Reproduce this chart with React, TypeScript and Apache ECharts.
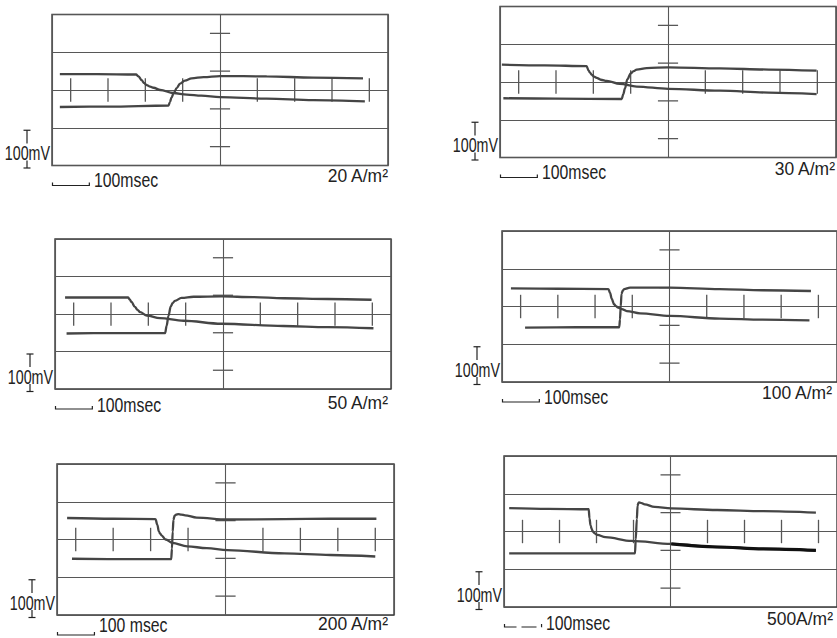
import React, { useEffect, useRef } from "react";
import * as echarts from "echarts";

// ---- data (ms, mV) ----
const CURRENT_LABELS = ["20 A/m²", "30 A/m²", "50 A/m²", "100 A/m²", "200 A/m²", "500A/m²"];
const TIME_LABELS = ["100msec", "100msec", "100msec", "100msec", "100 msec", "100msec"];
const VOLT_LABEL = "100mV";
const TICKS_MS = [50, 150, 250, 350, 550, 650, 750, 850];
const CENTER_BARS_MV = [150, 50, -50, -150];
const TICK_HALF_MV = 31;
const CENTER_BAR_HALF_MS = 27;

const FALL_20 = [[21, 42], [120, 42], [225, 41], [232, 36], [240, 26], [247, 18], [254, 13], [263, 9], [272, 6], [290, 0], [325, -8], [361, -12], [400, -15], [450, -19], [575, -23], [700, -27], [838, -30]];
const RISE_20 = [[21, -45], [150, -44], [312, -41], [316, -32], [320, -20], [326, -8], [334, 5], [343, 17], [356, 25], [374, 31], [406, 34], [450, 37], [575, 36], [700, 33], [833, 31]];

const FALL_30 = [[5, 46], [120, 44], [232, 42], [237, 31], [241, 25], [246, 19], [252, 14], [259, 11], [270, 6], [286, 3], [321, -5], [366, -12], [451, -18], [589, -23], [720, -28], [848, -32]];
const RISE_30 = [[9, -43], [150, -44], [326, -45], [330, -33], [335, -16], [341, 7], [350, 23], [358, 29], [366, 33], [393, 37], [451, 39], [589, 36], [720, 33], [848, 30]];

const FALL_50 = [[27, 44], [120, 44], [196, 44], [200, 39], [205, 32], [214, 19], [221, 11], [228, 5], [246, -4], [281, -11], [344, -18], [446, -26], [612, -32], [730, -35], [853, -38]];
const RISE_50 = [[31, -52], [150, -51], [295, -51], [299, -31], [304, -5], [310, 20], [315, 29], [321, 35], [339, 43], [371, 46], [446, 47], [530, 45], [612, 42], [730, 40], [848, 38]];

const FALL_100 = [[24, 48], [150, 47], [286, 46], [290, 37], [295, 20], [301, 6], [306, 1], [312, -3], [322, -7], [335, -12], [371, -18], [451, -25], [585, -32], [700, -35], [826, -37]];
const RISE_100 = [[62, -56], [200, -55], [315, -55], [317, -34], [319, 0], [321, 33], [324, 41], [328, 46], [344, 50], [451, 50], [585, 46], [700, 43], [830, 41]];

const FALL_200 = [[27, 57], [150, 55], [263, 54], [268, 39], [272, 21], [276, 15], [279, 11], [290, 0], [308, -9], [348, -18], [400, -23], [455, -28], [607, -37], [730, -41], [850, -45]];
const RISE_200 = [[40, -51], [200, -52], [305, -52], [307, -24], [309, 21], [311, 52], [314, 63], [318, 66], [324, 67], [332, 66], [342, 64], [373, 58], [455, 53], [607, 54], [730, 55], [853, 55]];

const FALL_500 = [[14, 62], [120, 60], [229, 59], [231, 35], [234, 16], [237, 7], [240, 0], [245, -5], [252, -9], [274, -15], [345, -25], [452, -33], [576, -41], [700, -46], [843, -50]];
const RISE_500 = [[14, -58], [200, -58], [354, -58], [356, -21], [359, 33], [361, 68], [363, 75], [365, 77], [372, 75], [380, 72], [407, 65], [452, 61], [576, 57], [700, 54], [843, 50]];

const FALLS = [FALL_20, FALL_30, FALL_50, FALL_100, FALL_200, FALL_500];
const RISES = [RISE_20, RISE_30, RISE_50, RISE_100, RISE_200, RISE_500];
const DARK_FROM_MS = 452; // darker ink on the 500 A/m² falling trace

// ---- layout ----
const PANELS = [
  { left: 52, top: 14.5, width: 336, height: 151, labelRight: 388, labelDy: 9.5, timeDy: 15 },
  { left: 500, top: 6.5, width: 336, height: 151, labelRight: 835, labelDy: 10.5, timeDy: 15 },
  { left: 55, top: 239, width: 336, height: 150, labelRight: 388, labelDy: 13, timeDy: 16 },
  { left: 502, top: 231, width: 336, height: 151, labelRight: 832, labelDy: 10, timeDy: 15 },
  { left: 57, top: 464, width: 337, height: 151, labelRight: 388, labelDy: 8, timeDy: 10 },
  { left: 504, top: 456, width: 338, height: 151, labelRight: 833, labelDy: 11, timeDy: 16 },
];

const INK = "#454545";
const GRIDINK = "#575757";
const TEXTINK = "#222222";
const FONT = "Liberation Sans, Arial, sans-serif";

function buildOption() {
  const series: any[] = [];
  const graphic: any[] = [];

  PANELS.forEach((p, i) => {
    const common = {
      xAxisIndex: i,
      yAxisIndex: i,
      silent: true,
    };
    series.push({
      ...common,
      type: "line",
      data: FALLS[i],
      symbol: "none",
      smooth: 0.35,
      smoothMonotone: "x",
      lineStyle: { color: INK, width: 2.3 },
      z: 4,
    });
    series.push({
      ...common,
      type: "line",
      data: RISES[i],
      symbol: "none",
      smooth: 0.35,
      smoothMonotone: "x",
      lineStyle: { color: INK, width: 2.3 },
      z: 4,
    });
    if (i === 5) {
      series.push({
        ...common,
        type: "line",
        data: FALLS[i].filter((d) => d[0] >= DARK_FROM_MS),
        symbol: "none",
        smooth: 0.35,
        smoothMonotone: "x",
        lineStyle: { color: "#111", width: 3.2 },
        z: 5,
      });
    }
    series.push({
      ...common,
      type: "custom",
      data: TICKS_MS.map((t) => [t, 0]),
      encode: { x: 0, y: 1 },
      z: 3,
      renderItem: (params: any, api: any) => {
        const x = api.value(0);
        const a = api.coord([x, TICK_HALF_MV]);
        const b = api.coord([x, -TICK_HALF_MV]);
        return {
          type: "line",
          shape: { x1: a[0], y1: a[1], x2: b[0], y2: b[1] },
          style: { stroke: GRIDINK, lineWidth: 1.3 },
        };
      },
    });
    series.push({
      ...common,
      type: "custom",
      data: CENTER_BARS_MV.map((v) => [450, v]),
      encode: { x: 0, y: 1 },
      z: 3,
      renderItem: (params: any, api: any) => {
        const x = api.value(0);
        const y = api.value(1);
        const a = api.coord([x - CENTER_BAR_HALF_MS, y]);
        const b = api.coord([x + CENTER_BAR_HALF_MS, y]);
        return {
          type: "line",
          shape: { x1: a[0], y1: a[1], x2: b[0], y2: b[1] },
          style: { stroke: GRIDINK, lineWidth: 1.3 },
        };
      },
    });

    const L = p.left;
    const B = p.top + p.height;
    const div = p.width / 9;
    const mvPx = p.height / 4;

    // 100 mV scale bar
    const bx = L - 25;
    const topY = B + 2.5 - mvPx;
    graphic.push({
      type: "polyline",
      shape: { points: [[bx - 3.5, topY], [bx + 3.5, topY]] },
      style: { stroke: TEXTINK, lineWidth: 1.2, fill: null },
    });
    graphic.push({
      type: "line",
      shape: { x1: bx, y1: topY, x2: bx, y2: B - 22 },
      style: { stroke: TEXTINK, lineWidth: 1.2 },
    });
    graphic.push({
      type: "line",
      shape: { x1: bx, y1: B - 5, x2: bx, y2: B + 2.5 },
      style: { stroke: TEXTINK, lineWidth: 1.2 },
    });
    graphic.push({
      type: "polyline",
      shape: { points: [[bx - 3.5, B + 2.5], [bx + 3.5, B + 2.5]] },
      style: { stroke: TEXTINK, lineWidth: 1.2, fill: null },
    });
    graphic.push({
      type: "text",
      x: L - 2,
      y: B - 12.5,
      scaleX: 0.68,
      style: {
        text: VOLT_LABEL,
        font: `21px ${FONT}`,
        lineHeight: 17,
        fill: TEXTINK,
        align: "right",
        verticalAlign: "middle",
      },
    });

    // 100 msec scale bar
    const ty = B + 20;
    graphic.push({
      type: "polyline",
      shape: { points: [[L + 0.5, ty - 3], [L + 0.5, ty], [L + div, ty], [L + div, ty - 3]] },
      style: { stroke: TEXTINK, lineWidth: 1.2, fill: null, lineDash: i === 5 ? [15, 5] : null },
    });
    graphic.push({
      type: "text",
      x: L + 42,
      y: B + p.timeDy,
      scaleX: 0.79,
      style: {
        text: TIME_LABELS[i],
        font: `20px ${FONT}`,
        lineHeight: 16,
        fill: TEXTINK,
        align: "left",
        verticalAlign: "middle",
      },
    });

    // current density label
    graphic.push({
      type: "text",
      x: p.labelRight,
      y: B + p.labelDy,
      scaleX: 0.92,
      style: {
        text: CURRENT_LABELS[i],
        font: `19px ${FONT}`,
        lineHeight: 17,
        fill: TEXTINK,
        align: "right",
        verticalAlign: "middle",
      },
    });
  });

  return {
    animation: false,
    backgroundColor: "#ffffff",
    grid: PANELS.map((p) => ({
      left: p.left,
      top: p.top,
      width: p.width,
      height: p.height,
      show: true,
      borderColor: "#3a3a3a",
      borderWidth: 1.4,
      backgroundColor: "transparent",
      containLabel: false,
    })),
    xAxis: PANELS.map((p, i) => ({
      type: "value",
      gridIndex: i,
      min: 0,
      max: 900,
      interval: 450,
      axisLine: { show: false },
      axisTick: { show: false },
      axisLabel: { show: false },
      splitLine: { show: true, lineStyle: { color: GRIDINK, width: 1.1 } },
    })),
    yAxis: PANELS.map((p, i) => ({
      type: "value",
      gridIndex: i,
      min: -200,
      max: 200,
      interval: 100,
      axisLine: { show: false },
      axisTick: { show: false },
      axisLabel: { show: false },
      splitLine: { show: true, lineStyle: { color: GRIDINK, width: 1.1 } },
    })),
    series,
    graphic,
  };
}

export default function App() {
  const ref = useRef<HTMLDivElement>(null);
  useEffect(() => {
    if (!ref.current) return;
    const chart = echarts.init(ref.current, undefined, { renderer: "svg" });
    chart.setOption(buildOption() as any);
    return () => chart.dispose();
  }, []);
  return (
    <div
      ref={ref}
      style={{ position: "fixed", left: 0, top: 0, width: 837, height: 638, background: "#fff" }}
    />
  );
}
